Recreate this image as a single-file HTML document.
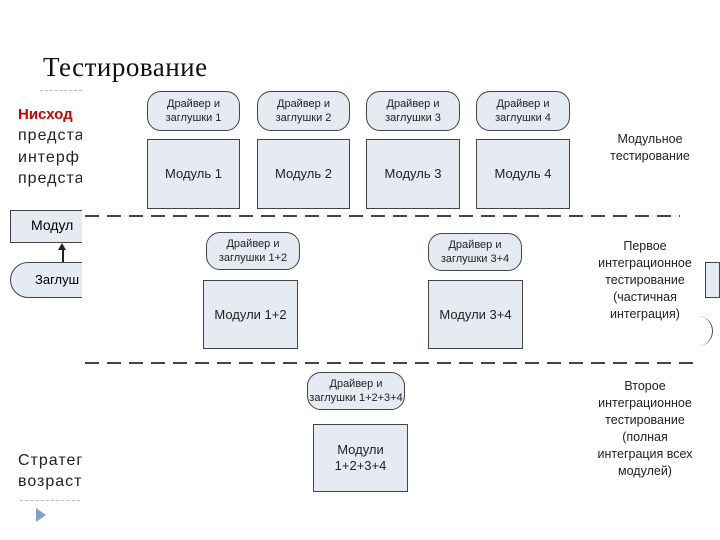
<!DOCTYPE html>
<html><head><meta charset="utf-8"><style>
body{margin:0;width:720px;height:540px;background:#fff;position:relative;overflow:hidden;font-family:"Liberation Sans",sans-serif}
.a{position:absolute}
.d{position:absolute;background:#e6eaf3;border:1.5px solid #444;border-radius:14px;font-size:11px;text-align:center;display:flex;align-items:center;justify-content:center;line-height:14px;color:#222;box-sizing:border-box}
.m{position:absolute;background:#e6eaf3;border:1.5px solid #444;font-size:13px;text-align:center;display:flex;align-items:center;justify-content:center;color:#222;box-sizing:border-box;line-height:16px}
.l{position:absolute;font-size:16px;color:#222;letter-spacing:1px}
.r{position:absolute;font-size:12.5px;text-align:center;color:#222;line-height:17px}
.dash{position:absolute;height:2px;background:repeating-linear-gradient(90deg,#444 0 14px,transparent 14px 22px)}
</style></head><body>
<div class="a" style="left:43px;top:52px;font-family:'Liberation Serif',serif;font-size:27px;color:#111;letter-spacing:0.5px">Тестирование</div>
<div class="a" style="left:40px;top:90px;width:42px;border-top:1px dashed #bbb"></div>
<div class="l" style="left:18px;top:106px;color:#c00;font-weight:bold;font-size:15px;letter-spacing:0">Нисход</div>
<div class="l" style="left:18px;top:127px">предста</div>
<div class="l" style="left:18px;top:149px">интерф</div>
<div class="l" style="left:18px;top:170px">предста</div>
<div class="a" style="left:10px;top:210px;width:75px;height:33px;background:#e6eaf3;border:1.5px solid #444;box-sizing:border-box;font-size:14px;padding:6px 0 0 20px">Модул</div>
<div class="a" style="left:62px;top:248px;width:1.5px;height:14px;background:#222"></div>
<div class="a" style="left:58px;top:243px;border-left:4px solid transparent;border-right:4px solid transparent;border-bottom:7px solid #222"></div>
<div class="a" style="left:10px;top:262px;width:80px;height:36px;background:#e6eaf3;border:1.5px solid #444;border-radius:18px 0 0 18px;box-sizing:border-box;font-size:13px;padding:9px 0 0 24px">Заглуш</div>
<div class="l" style="left:18px;top:452px">Стратег</div>
<div class="l" style="left:18px;top:473px">возраст</div>
<div class="a" style="left:20px;top:500px;width:60px;border-top:1px dashed #bbb"></div>
<div class="a" style="left:36px;top:508px;border-top:7px solid transparent;border-bottom:7px solid transparent;border-left:10px solid #7fa3c8"></div>
<div class="a" style="left:82px;top:88px;width:623px;height:415px;background:#fff"></div>

<div class="d" style="left:147px;top:91px;width:93px;height:40px">Драйвер и<br>заглушки 1</div>
<div class="d" style="left:257px;top:91px;width:93px;height:40px">Драйвер и<br>заглушки 2</div>
<div class="d" style="left:366px;top:91px;width:94px;height:40px">Драйвер и<br>заглушки 3</div>
<div class="d" style="left:476px;top:91px;width:94px;height:40px">Драйвер и<br>заглушки 4</div>
<div class="m" style="left:147px;top:139px;width:93px;height:70px">Модуль 1</div>
<div class="m" style="left:257px;top:139px;width:93px;height:70px">Модуль 2</div>
<div class="m" style="left:366px;top:139px;width:94px;height:70px">Модуль 3</div>
<div class="m" style="left:476px;top:139px;width:94px;height:70px">Модуль 4</div>
<div class="r" style="left:590px;top:131px;width:120px">Модульное<br>тестирование</div>
<div class="dash" style="left:85px;top:215px;width:595px"></div>

<div class="d" style="left:206px;top:232px;width:94px;height:38px">Драйвер и<br>заглушки 1+2</div>
<div class="d" style="left:428px;top:233px;width:94px;height:38px">Драйвер и<br>заглушки 3+4</div>
<div class="m" style="left:203px;top:280px;width:95px;height:69px">Модули 1+2</div>
<div class="m" style="left:428px;top:280px;width:95px;height:69px">Модули 3+4</div>
<div class="r" style="left:585px;top:238px;width:120px">Первое<br>интеграционное<br>тестирование<br>(частичная<br>интеграция)</div>
<div class="dash" style="left:85px;top:362px;width:610px"></div>

<div class="d" style="left:307px;top:372px;width:98px;height:38px">Драйвер и<br>заглушки 1+2+3+4</div>
<div class="m" style="left:313px;top:424px;width:95px;height:68px">Модули<br>1+2+3+4</div>
<div class="r" style="left:585px;top:378px;width:120px">Второе<br>интеграционное<br>тестирование<br>(полная<br>интеграция всех<br>модулей)</div>
<div class="a" style="left:705px;top:262px;width:15px;height:36px;background:#e6eaf3;border:1.5px solid #444;box-sizing:border-box"></div>
<div class="a" style="left:690px;top:316px;width:22px;height:30px;border-right:1.5px solid #444;border-radius:0 15px 15px 0"></div>
</body></html>
